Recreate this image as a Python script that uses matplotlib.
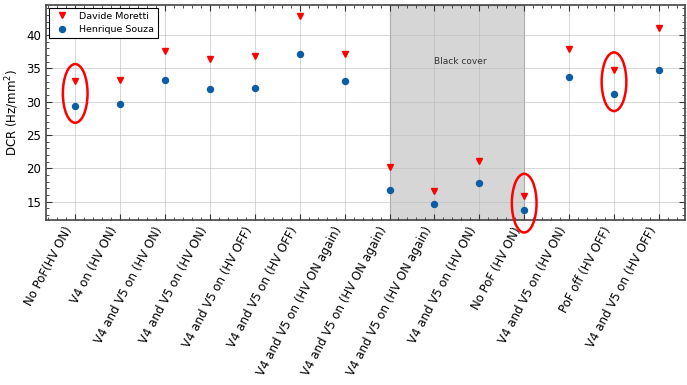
import matplotlib
matplotlib.use("Agg")
import matplotlib.pyplot as plt
from matplotlib.patches import Ellipse
from matplotlib.ticker import AutoMinorLocator

labels = ["No PoF(HV ON)", "V4 on (HV ON)", "V4 and V5 on (HV ON)",
          "V4 and V5 on (HV ON)", "V4 and V5 on (HV OFF)", "V4 and V5 on (HV OFF)",
          "V4 and V5 on (HV ON again)", "V4 and V5 on (HV ON again)",
          "V4 and V5 on (HV ON again)", "V4 and V5 on (HV ON)", "No PoF (HV ON)",
          "V4 and V5 on (HV ON)", "PoF off (HV OFF)", "V4 and V5 on (HV OFF)"]
davide = [33.1, 33.3, 37.6, 36.4, 36.9, 42.8, 37.2, 20.2, 16.6, 21.1, 15.8, 37.9, 34.8, 41.0]
henrique = [29.4, 29.7, 33.3, 31.9, 32.1, 37.2, 33.1, 16.8, 14.7, 17.8, 13.8, 33.7, 31.2, 34.8]
circled = [0, 10, 12]

plt.rcParams['xtick.direction'] = 'in'
plt.rcParams['ytick.direction'] = 'in'
plt.rcParams['xtick.top'] = True
plt.rcParams['ytick.right'] = True

fig, ax = plt.subplots(figsize=(6.87, 3.85), dpi=100)
fig.subplots_adjust(left=0.067, right=0.997, top=0.987, bottom=0.429)

x = list(range(len(labels)))
ax.axvspan(7, 10, facecolor='#d6d6d6', edgecolor='#999999', lw=0.8, zorder=0)
ax.plot(x, davide, 'v', color='red', ms=4.3, ls='none', label='Davide Moretti', zorder=3)
ax.plot(x, henrique, 'o', color='#0C5DA5', ms=4.3, ls='none', label='Henrique Souza', zorder=3)

for i in circled:
    cy = (davide[i] + henrique[i]) / 2
    ax.add_patch(Ellipse((i, cy), 0.55, 8.8, fill=False, edgecolor='red', lw=1.8,
                         clip_on=False, zorder=4))

ax.text(8.58, 36.0, 'Black cover', ha='center', va='center', fontsize=6.5, color='#333333')

ax.set_xlim(-0.65, 13.58)
ax.set_ylim(12.3, 44.5)
ax.set_yticks([15, 20, 25, 30, 35, 40])
ax.set_xticks(x)
ax.set_xticklabels(labels, rotation=62, ha='right', fontsize=8.5)
ax.xaxis.set_minor_locator(AutoMinorLocator(5))
ax.yaxis.set_minor_locator(AutoMinorLocator(5))
ax.tick_params(which='major', length=4, width=0.8, color='#333333')
ax.tick_params(which='minor', length=2, width=0.6, color='#333333')
ax.tick_params(axis='y', labelsize=8.5)
ax.grid(True, color='#bbbbbb', lw=0.6, ls='-', alpha=0.7)
for s in ax.spines.values():
    s.set_linewidth(1.2)
    s.set_color('#444444')

ax.set_ylabel('DCR (Hz/mm$^2$)', fontsize=8.5)
leg = ax.legend(loc='upper left', fancybox=False, edgecolor='black', fontsize=6.8,
                framealpha=1, borderpad=0.4, handletextpad=0.8, borderaxespad=0.3)
leg.get_frame().set_linewidth(0.8)

plt.savefig('out.png')
